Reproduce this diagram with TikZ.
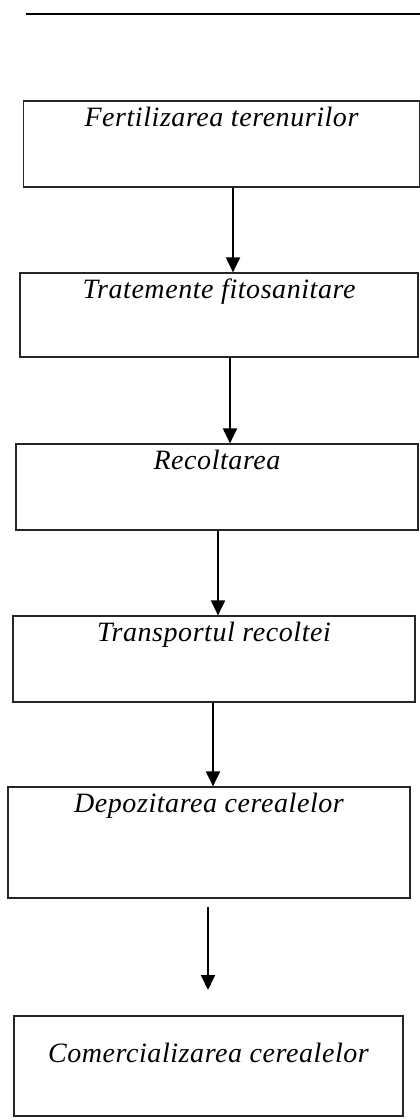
\documentclass[tikz,border=0pt]{standalone}
\usepackage{fontspec}
\setmainfont{Liberation Serif}
\newfontfamily\lblfont[LetterSpace=2]{Liberation Serif}
\usetikzlibrary{arrows.meta}
\begin{document}
\begin{tikzpicture}[x=1pt,y=-1pt,
  box/.style={draw=black!85, line width=1.2pt, inner sep=0pt},
  lbl/.style={font=\lblfont\fontsize{28}{32}\selectfont\itshape, inner sep=0pt, anchor=north},
  arr/.style={line width=2pt, -{Triangle[width=14pt,length=15pt]}},
  rule/.style={line width=1.5pt}]
\useasboundingbox (0,0) rectangle (420,1119);
\coordinate (r1) at (26,14);
\coordinate (r2) at (420,14);
\draw[rule] (r1) -- (r2);
% boxes: centre x, centre y, width, height
\node[box, minimum width=396pt, minimum height=86pt] (b1) at (221.5,144) {};
\node[box, minimum width=398pt, minimum height=84pt] (b2) at (219,315) {};
\node[box, minimum width=402pt, minimum height=86pt] (b3) at (217,487) {};
\node[box, minimum width=402pt, minimum height=86pt] (b4) at (214,659) {};
\node[box, minimum width=402pt, minimum height=111pt] (b5) at (209,842.5) {};
\node[box, minimum width=389pt, minimum height=100pt] (b6) at (208.5,1066) {};
\node[lbl] (t1) at ([yshift=-6pt]b1.north) {Fertilizarea terenurilor};
\node[lbl] (t2) at ([yshift=-6pt]b2.north) {Tratemente fitosanitare};
\node[lbl] (t3) at ([yshift=-6pt]b3.north) {Recoltarea};
\node[lbl] (t4) at ([yshift=-6pt]b4.north) {Transportul recoltei};
\node[lbl] (t5) at ([yshift=-6pt]b5.north) {Depozitarea cerealelor};
\node[lbl, anchor=center] (t6) at ([yshift=13pt]b6.center) {Comercializarea cerealelor};
\coordinate (e5) at (208,990);
\draw[arr] (b1.south -| 233,0) -- (b2.north -| 233,0);
\draw[arr] (b2.south -| 230,0) -- (b3.north -| 230,0);
\draw[arr] (b3.south -| 218,0) -- (b4.north -| 218,0);
\draw[arr] (b4.south -| 213,0) -- (b5.north -| 213,0);
\draw[arr] (b5.south -| 208,0) ++(0,8) -- (e5);
\end{tikzpicture}
\end{document}
